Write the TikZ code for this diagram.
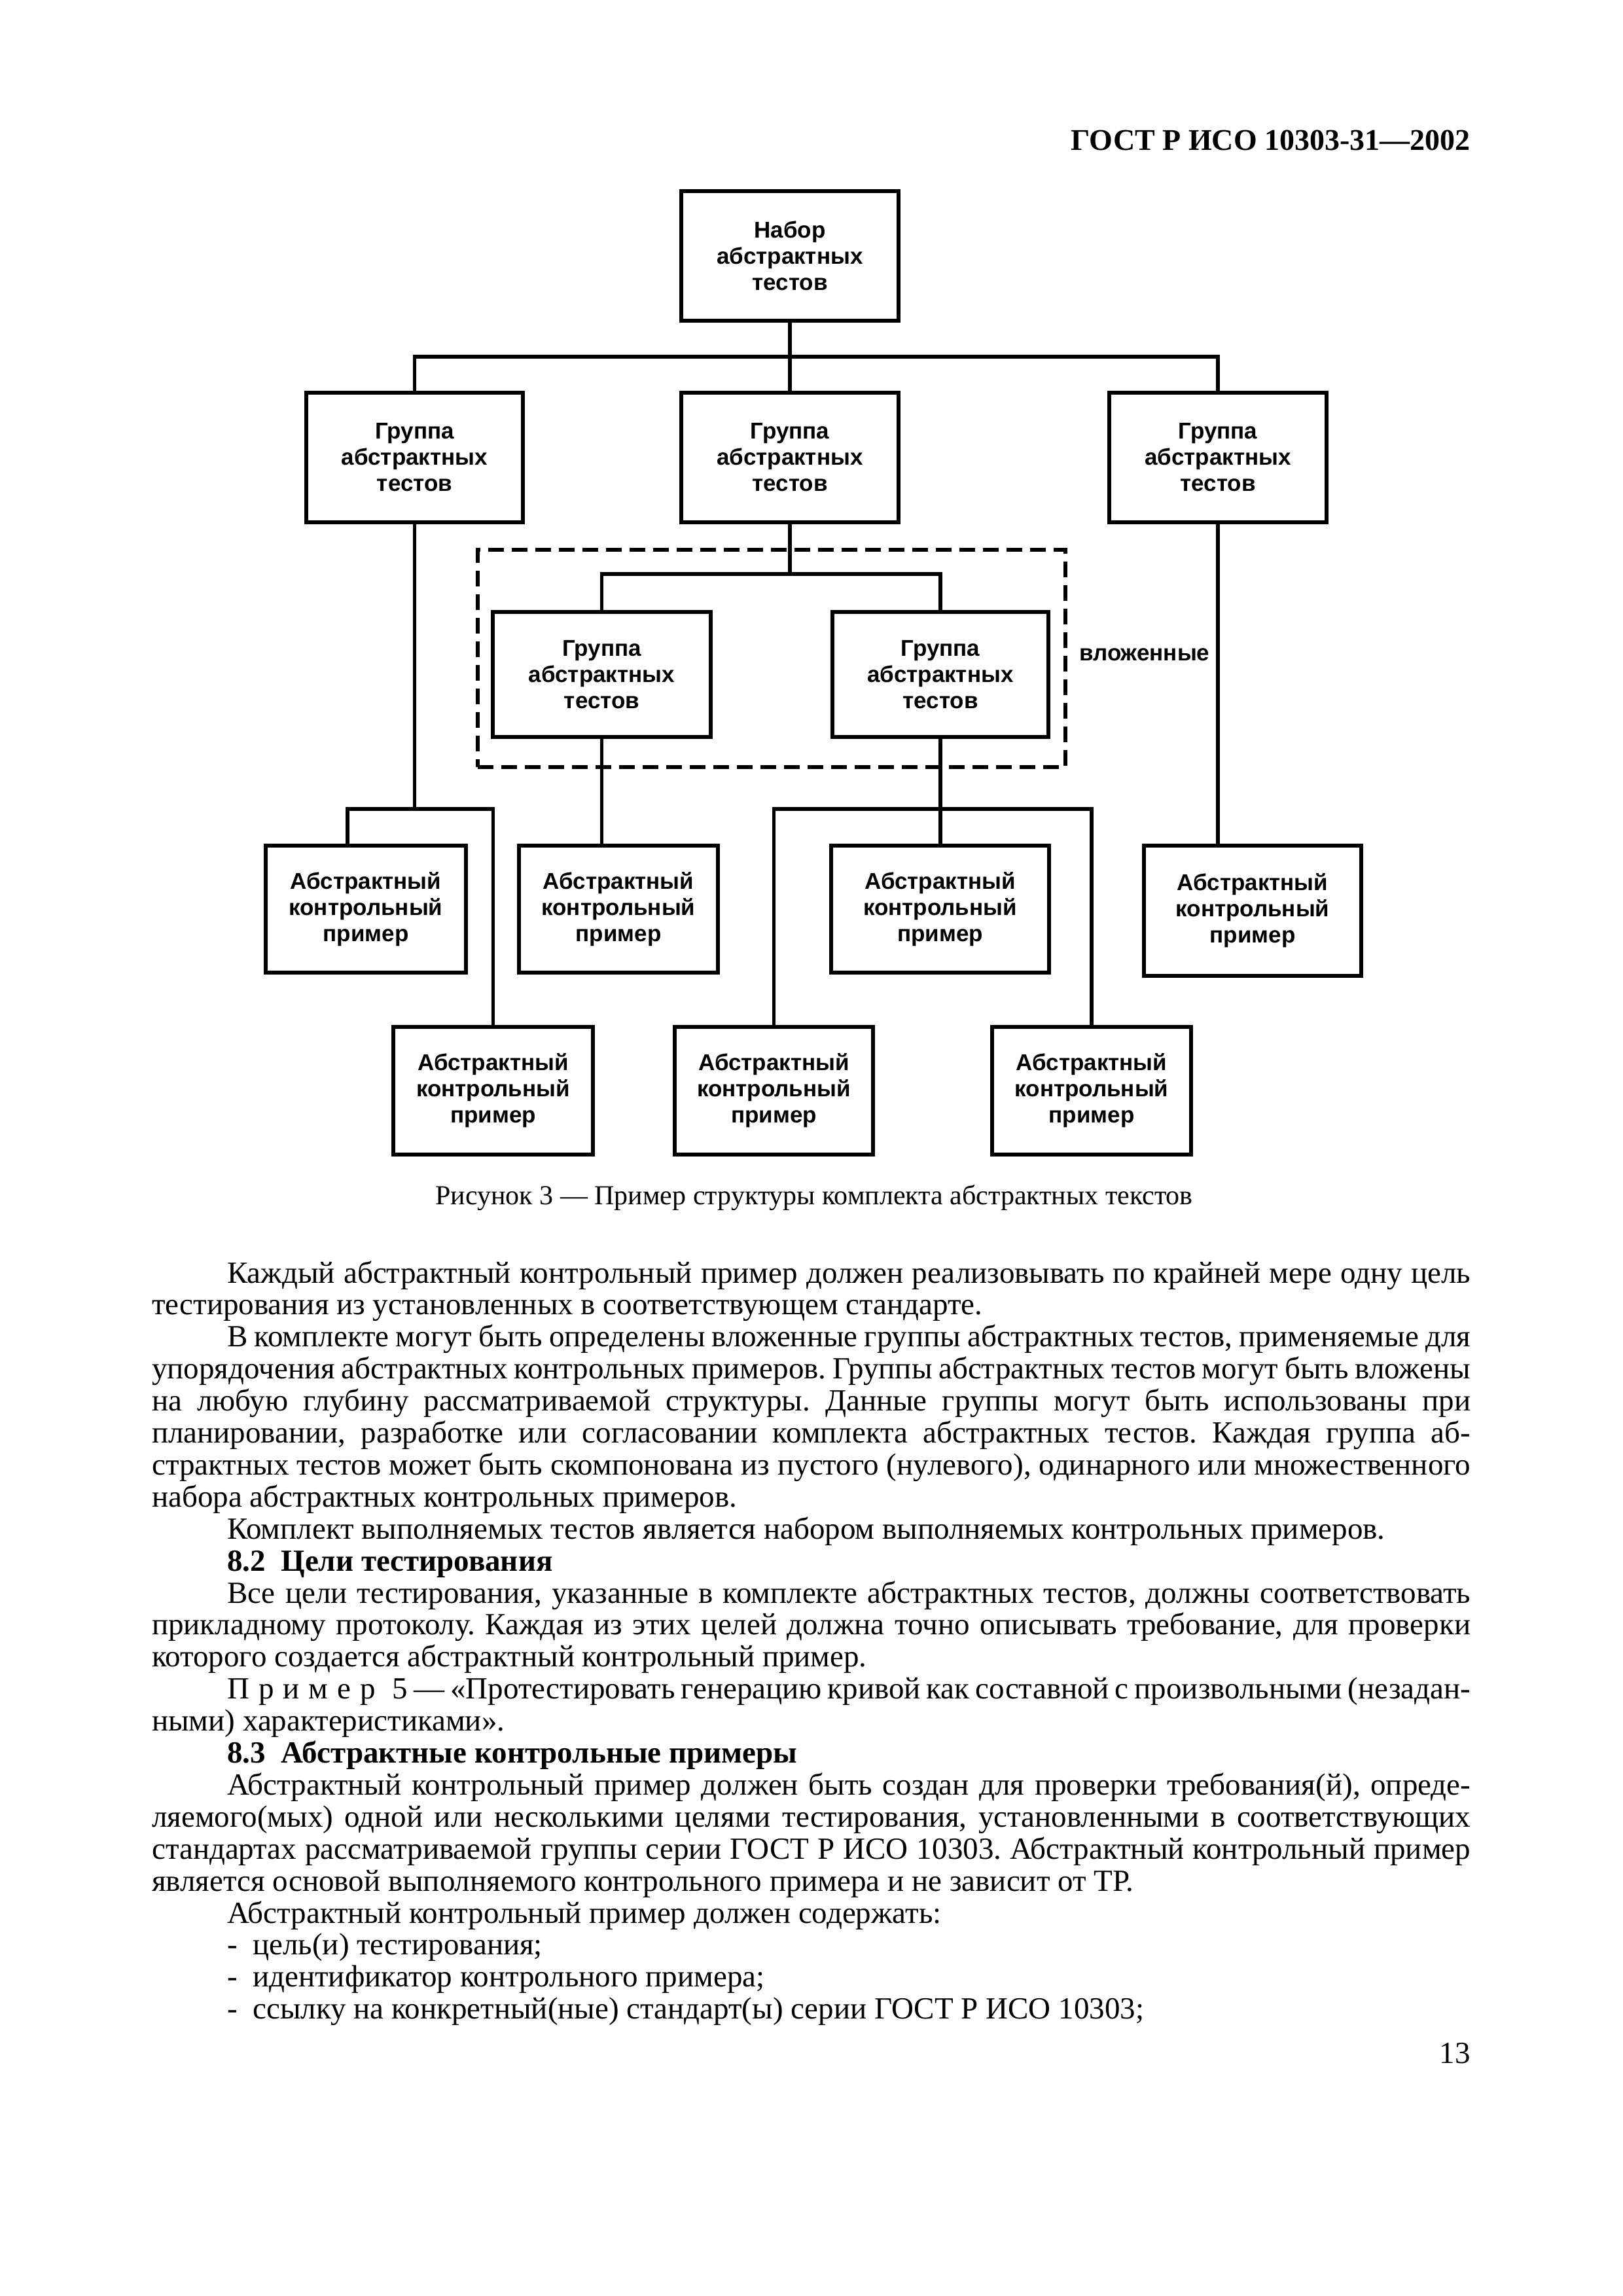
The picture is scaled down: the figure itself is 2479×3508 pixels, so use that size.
\documentclass[tikz,border=0pt]{standalone}
\usepackage{fontspec}
\setmainfont{Liberation Serif}
\newfontfamily\boxfamily{Liberation Sans}
\newcommand\boxfont{\boxfamily\bfseries\fontsize{35}{40}\selectfont}
\newcommand\bodyfont{\fontsize{47}{49}\selectfont}
\newcommand\jl[4]{\node[txt] (#1) at (#2,#3) {\hbox to \dimexpr 2247pt-#2pt\relax{#4}};}
\newcommand\pl[4]{\node[txt] (#1) at (#2,#3) {#4};}
\frenchspacing
\tikzset{
  box/.style={draw, line width=6pt, inner sep=0pt, align=center, font=\boxfont, rectangle},
  conn/.style={line width=5.5pt, line join=miter},
  txt/.style={anchor=base west, inner sep=0pt, font=\bodyfont},
}
\begin{document}
\begin{tikzpicture}[x=1pt,y=-1pt]
\fill[white] (0,0) rectangle (2479,3508);
\useasboundingbox (0,0) rectangle (2479,3508);

% header
\node[anchor=base east, inner sep=0pt, font=\bfseries\fontsize{46}{48}\selectfont] (hdr) at (2247,230) {ГОСТ Р ИСО 10303-31—2002};

% boxes
\node[box, minimum width=332pt, minimum height=198pt] (T) at (1207,391) {Набор\\абстрактных\\тестов};
\node[box, minimum width=331pt, minimum height=198pt] (GL) at (633.5,699) {Группа\\абстрактных\\тестов};
\node[box, minimum width=332pt, minimum height=198pt] (GM) at (1207,699) {Группа\\абстрактных\\тестов};
\node[box, minimum width=332pt, minimum height=198pt] (GR) at (1861,699) {Группа\\абстрактных\\тестов};

\node[draw, line width=6pt, dash pattern=on 24pt off 12pt, inner sep=0pt, minimum width=898pt, minimum height=332pt] (nest) at (1179,1006) {};
\node[box, minimum width=333pt, minimum height=191pt] (I1) at (919.5,1030.5) {Группа\\абстрактных\\тестов};
\node[box, minimum width=330pt, minimum height=191pt] (I2) at (1437,1030.5) {Группа\\абстрактных\\тестов};
\node[anchor=west, inner sep=0pt, font=\boxfont] (lbl) at (1649,1000) {вложенные};

\node[box, minimum width=306pt, minimum height=194pt] (A) at (559,1389) {Абстрактный\\контрольный\\пример};
\node[box, minimum width=304pt, minimum height=194pt] (B) at (945,1389) {Абстрактный\\контрольный\\пример};
\node[box, minimum width=333pt, minimum height=194pt] (C) at (1436.5,1389) {Абстрактный\\контрольный\\пример};
\node[box, minimum width=332pt, minimum height=199pt] (D) at (1914,1391.5) {Абстрактный\\контрольный\\пример};
\node[box, minimum width=305pt, minimum height=195pt] (E) at (753.5,1666.5) {Абстрактный\\контрольный\\пример};
\node[box, minimum width=303pt, minimum height=195pt] (F) at (1182.5,1666.5) {Абстрактный\\контрольный\\пример};
\node[box, minimum width=304pt, minimum height=195pt] (G) at (1668,1666.5) {Абстрактный\\контрольный\\пример};

% connector helpers
\coordinate (yb1) at (0,545);
\coordinate (aL) at (531,1236);
\coordinate (yIn) at (0,877);
\coordinate (yR) at (0,1236);

\draw[conn] (T.south) -- (T.south |- yb1);
\draw[conn] (GL.north) -- (GL.north |- yb1) -- (GR.north |- yb1) -- (GR.north);
\draw[conn] (GM.north |- yb1) -- (GM.north);
\draw[conn] (GL.south) -- (GL.south |- aL);
\draw[conn] (aL |- A.north) -- (aL) -- (E.north |- aL) -- (E.north);
\draw[conn] (GM.south) -- (GM.south |- yIn);
\draw[conn] (I1.north) -- (I1.north |- yIn) -- (I2.north |- yIn) -- (I2.north);
\draw[conn] (I1.south) -- (I1.south |- B.north);
\draw[conn] (I2.south) -- (I2.south |- C.north);
\draw[conn] (F.north) -- (F.north |- yR) -- (G.north |- yR) -- (G.north);
\draw[conn] (GR.south) -- (GR.south |- D.north);

% caption
\node[anchor=base, inner sep=0pt, font=\fontsize{42}{44}\selectfont] (cap) at (1244,1840) {Рисунок 3 — Пример структуры комплекта абстрактных текстов};

% body text
\jl{l1}{347}{1960}{Каждый абстрактный контрольный пример должен реализовывать по крайней мере одну цель}
\pl{l2}{232}{2008.9}{тестирования из установленных в соответствующем стандарте.}
\jl{l3}{347}{2057.8}{В комплекте могут быть определены вложенные группы абстрактных тестов, применяемые для}
\jl{l4}{232}{2106.7}{упорядочения абстрактных контрольных примеров. Группы абстрактных тестов могут быть вложены}
\jl{l5}{232}{2155.6}{на любую глубину рассматриваемой структуры. Данные группы могут быть использованы при}
\jl{l6}{232}{2204.5}{планировании, разработке или согласовании комплекта абстрактных тестов. Каждая группа аб-}
\jl{l7}{232}{2253.4}{страктных тестов может быть скомпонована из пустого (нулевого), одинарного или множественного}
\pl{l8}{232}{2302.3}{набора абстрактных контрольных примеров.}
\pl{l9}{347}{2351.2}{Комплект выполняемых тестов является набором выполняемых контрольных примеров.}
\node[txt, font=\bodyfont\bfseries] (l10) at (347,2400.1) {8.2\ \ Цели тестирования};
\jl{l11}{347}{2449}{Все цели тестирования, указанные в комплекте абстрактных тестов, должны соответствовать}
\jl{l12}{232}{2497.9}{прикладному протоколу. Каждая из этих целей должна точно описывать требование, для проверки}
\pl{l13}{232}{2546.8}{которого создается абстрактный контрольный пример.}
\jl{l14}{347}{2595.7}{П\kern14pt р\kern14pt и\kern14pt м\kern14pt е\kern14pt р\kern26pt 5 — «Протестировать генерацию кривой как составной с произвольными (незадан-}
\pl{l15}{232}{2644.6}{ными) характеристиками».}
\node[txt, font=\bodyfont\bfseries] (l16) at (347,2693.5) {8.3\ \ Абстрактные контрольные примеры};
\jl{l17}{347}{2742.4}{Абстрактный контрольный пример должен быть создан для проверки требования(й), опреде-}
\jl{l18}{232}{2791.3}{ляемого(мых) одной или несколькими целями тестирования, установленными в соответствующих}
\jl{l19}{232}{2840.2}{стандартах рассматриваемой группы серии ГОСТ Р ИСО 10303. Абстрактный контрольный пример}
\pl{l20}{232}{2889.1}{является основой выполняемого контрольного примера и не зависит от ТР.}
\pl{l21}{347}{2938}{Абстрактный контрольный пример должен содержать:}
\pl{l22}{347}{2986.9}{-\ \ цель(и) тестирования;}
\pl{l23}{347}{3035.8}{-\ \ идентификатор контрольного примера;}
\pl{l24}{347}{3084.7}{-\ \ ссылку на конкретный(ные) стандарт(ы) серии ГОСТ Р ИСО 10303;}

\node[anchor=base east, inner sep=0pt, font=\bodyfont] (pg) at (2247,3152) {13};
\end{tikzpicture}
\end{document}
